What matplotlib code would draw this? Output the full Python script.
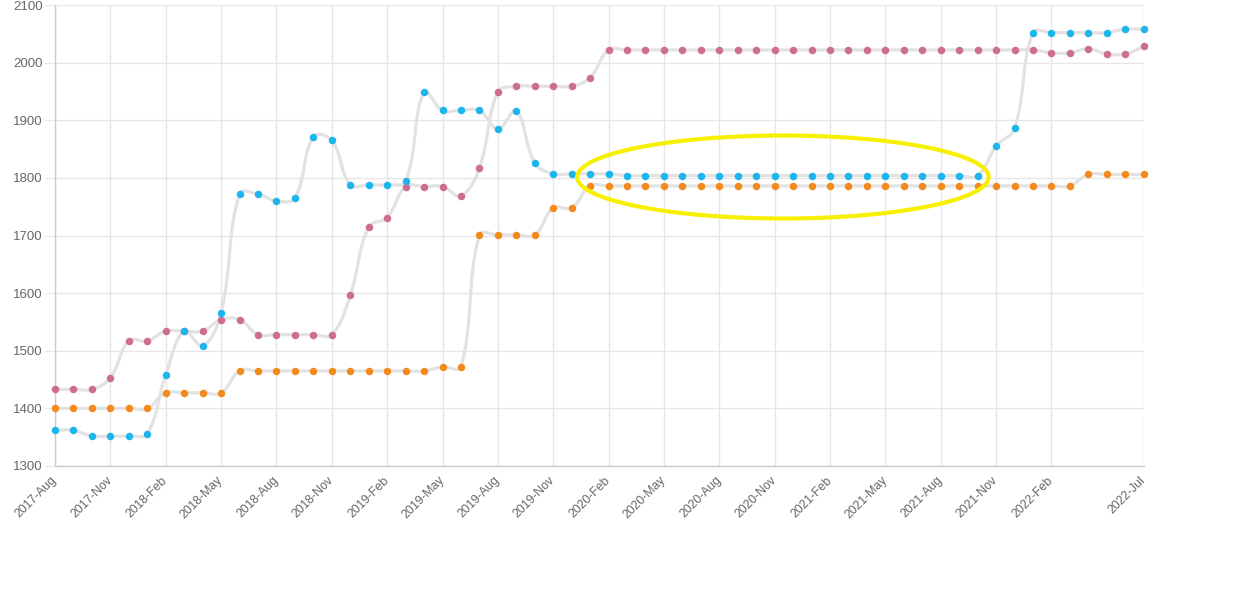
import numpy as np
import pandas as pd
import matplotlib
matplotlib.use('Agg')
import matplotlib.pyplot as plt
from matplotlib.path import Path
from matplotlib.patches import PathPatch, Ellipse

plt.rcParams['font.family'] = ['Liberation Sans', 'DejaVu Sans']

# monthly categories, 2017-Aug .. 2022-Jul
months = list(pd.date_range('2017-08-01', periods=60, freq='MS').strftime('%Y-%b'))

blue = [1362, 1362, 1352, 1352, 1352, 1356, 1458, 1534, 1508, 1566,
        1772, 1772, 1760, 1765, 1871, 1865, 1788, 1788, 1788, 1794,
        1949, 1917, 1917, 1917, 1885, 1916, 1826, 1807, 1807, 1807,
        1807, 1804, 1804, 1804, 1804, 1804, 1804, 1804, 1804, 1804,
        1804, 1804, 1804, 1804, 1804, 1804, 1804, 1804, 1804, 1804,
        1804, 1855, 1886, 2052, 2052, 2052, 2052, 2052, 2058, 2058]

pink = [1433, 1433, 1433, 1453, 1517, 1517, 1534, 1534, 1534, 1554,
        1554, 1528, 1528, 1528, 1528, 1528, 1596, 1715, 1731, 1785,
        1785, 1785, 1769, 1817, 1949, 1959, 1959, 1959, 1959, 1974,
        2022, 2022, 2022, 2022, 2022, 2022, 2022, 2022, 2022, 2022,
        2022, 2022, 2022, 2022, 2022, 2022, 2022, 2022, 2022, 2022,
        2022, 2022, 2022, 2022, 2017, 2017, 2024, 2015, 2015, 2028]

orange = [1400, 1400, 1400, 1400, 1400, 1400, 1427, 1427, 1427, 1427,
          1465, 1465, 1465, 1465, 1465, 1465, 1465, 1465, 1465, 1465,
          1465, 1472, 1472, 1701, 1701, 1701, 1701, 1748, 1748, 1786,
          1786, 1786, 1786, 1786, 1786, 1786, 1786, 1786, 1786, 1786,
          1786, 1786, 1786, 1786, 1786, 1786, 1786, 1786, 1786, 1786,
          1786, 1786, 1786, 1786, 1786, 1786, 1806, 1806, 1806, 1806]

series = [(orange, '#f28b1b'), (pink, '#cc6e8e'), (blue, '#1cb5ec')]

fig = plt.figure(figsize=(12.44, 6.04), dpi=100)
ax = fig.add_axes([55 / 1244, 1 - 466 / 604, (1143.7 - 55) / 1244, (466 - 5) / 604])
x = np.arange(len(months))
ax.set_xlim(0, len(months) - 1)
ax.set_ylim(1300, 2100)


def spline_path(xs, ys, t=0.4):
    # chart.js style bezier spline, computed in pixel space
    pts = ax.transData.transform(np.column_stack([xs, ys]))
    n = len(pts)
    cp_prev = np.zeros_like(pts)
    cp_next = np.zeros_like(pts)
    for i in range(n):
        p0 = pts[max(i - 1, 0)]
        p1 = pts[i]
        p2 = pts[min(i + 1, n - 1)]
        d01 = np.hypot(*(p1 - p0))
        d12 = np.hypot(*(p2 - p1))
        tot = d01 + d12
        s01 = d01 / tot if tot else 0
        s12 = d12 / tot if tot else 0
        cp_prev[i] = p1 - t * s01 * (p2 - p0)
        cp_next[i] = p1 + t * s12 * (p2 - p0)
    verts = [pts[0]]
    codes = [Path.MOVETO]
    for i in range(n - 1):
        verts += [cp_next[i], cp_prev[i + 1], pts[i + 1]]
        codes += [Path.CURVE4] * 3
    inv = ax.transData.inverted()
    return Path(inv.transform(np.array(verts)), codes)


for vals, col in series:
    ax.add_patch(PathPatch(spline_path(x, vals), facecolor='none',
                           edgecolor='#e2e2e2', lw=2.3, zorder=2,
                           capstyle='round', joinstyle='round'))
for vals, col in series:
    ax.plot(x, vals, 'o', color=col, ms=5.4, mew=0, zorder=3, clip_on=False)

# highlight
ax.add_patch(Ellipse((39.45, 1801.5), 22.3, 144, fill=False,
                     edgecolor='#f7f000', lw=3, zorder=4))

tick_idx = list(range(0, 55, 3)) + [59]
ax.set_xticks(tick_idx)
ax.set_xticklabels([months[i] for i in tick_idx], rotation=45, ha='right',
                   va='center', rotation_mode='anchor', fontsize=8.8, color='#666666')
ax.set_yticks(range(1300, 2101, 100))
ax.tick_params(axis='y', labelsize=9.5, labelcolor='#666666', length=7,
               color='#e6e6e6', pad=2)
ax.tick_params(axis='x', length=0, pad=9)
ax.grid(True, color='#e6e6e6', lw=1)
ax.set_axisbelow(True)
for s in ['top', 'right']:
    ax.spines[s].set_visible(False)
for s in ['left', 'bottom']:
    ax.spines[s].set_color('#cccccc')
    ax.spines[s].set_linewidth(1)

fig.savefig('out.png', dpi=100)
